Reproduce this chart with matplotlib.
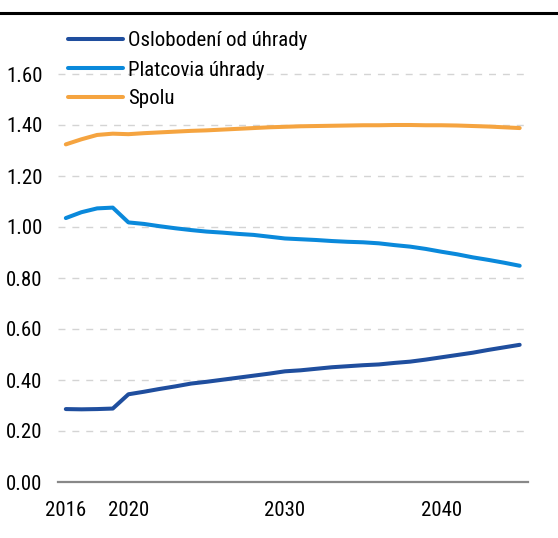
import matplotlib
matplotlib.use("Agg")
import matplotlib.pyplot as plt
from matplotlib.lines import Line2D

plt.rcParams['font.family'] = ['Roboto Condensed', 'Liberation Sans', 'DejaVu Sans']

years = list(range(2016, 2046))
labeled_years = [2016, 2020, 2030, 2040]

oslobodeni = [0.286, 0.285, 0.286, 0.288, 0.344, 0.354, 0.365, 0.375, 0.386, 0.393,
              0.401, 0.409, 0.417, 0.425, 0.434, 0.438, 0.444, 0.450, 0.454, 0.458,
              0.461, 0.467, 0.472, 0.480, 0.489, 0.498, 0.507, 0.518, 0.528, 0.538]
platcovia = [1.035, 1.058, 1.073, 1.076, 1.018, 1.012, 1.003, 0.995, 0.988, 0.982,
             0.978, 0.973, 0.969, 0.962, 0.955, 0.952, 0.949, 0.945, 0.942, 0.940,
             0.936, 0.929, 0.923, 0.914, 0.903, 0.893, 0.881, 0.871, 0.860, 0.848]
spolu = [1.324, 1.344, 1.361, 1.366, 1.364, 1.368, 1.371, 1.374, 1.377, 1.379,
         1.382, 1.385, 1.388, 1.391, 1.393, 1.395, 1.396, 1.397, 1.398, 1.399,
         1.399, 1.400, 1.400, 1.399, 1.399, 1.398, 1.396, 1.394, 1.391, 1.388]

yticks = [0.0, 0.2, 0.4, 0.6, 0.8, 1.0, 1.2, 1.4, 1.6]

fig = plt.figure(figsize=(5.58, 5.38), dpi=100)
ax = fig.add_axes([58 / 558, 1 - 482 / 538, 469.5 / 558, 459 / 538])

x = list(range(len(years)))
ax.plot(x, oslobodeni, color='#1f4e9e', lw=2.9, label='Oslobodení od úhrady', solid_capstyle='round')
ax.plot(x, platcovia, color='#0a89db', lw=2.9, label='Platcovia úhrady', solid_capstyle='round')
ax.plot(x, spolu, color='#f5a440', lw=2.9, label='Spolu', solid_capstyle='round')

ax.set_xlim(-0.5, len(years) - 0.5)
ax.set_ylim(0, 1.8)
ax.set_yticks(yticks)
ax.set_yticklabels([f"{v:.2f}" for v in yticks])
ax.set_xticks([years.index(y) for y in labeled_years])
ax.set_xticklabels([str(y) for y in labeled_years])
ax.tick_params(length=0, labelsize=15, colors='black')
ax.tick_params(axis='y', pad=11)
ax.tick_params(axis='x', pad=14)

ax.grid(axis='y', color='#d4d4d4', lw=1, linestyle=(0, (5, 5)))
ax.set_axisbelow(True)
for side in ['top', 'right', 'left']:
    ax.spines[side].set_visible(False)
ax.spines['bottom'].set_color('#888888')
ax.spines['bottom'].set_linewidth(1.6)

ax.legend(loc='upper left', bbox_to_anchor=(68 / 558, 1 - 31.5 / 538),
          bbox_transform=fig.transFigure, frameon=False, fontsize=15,
          handlelength=2.65, handletextpad=0.25, labelspacing=0.48,
          borderpad=0, borderaxespad=0)

# top rule across the whole figure
fig.add_artist(Line2D([0, 1], [1 - 12.5 / 538] * 2, color='black', lw=2.2,
                      transform=fig.transFigure))

fig.savefig('out.png', dpi=100)
